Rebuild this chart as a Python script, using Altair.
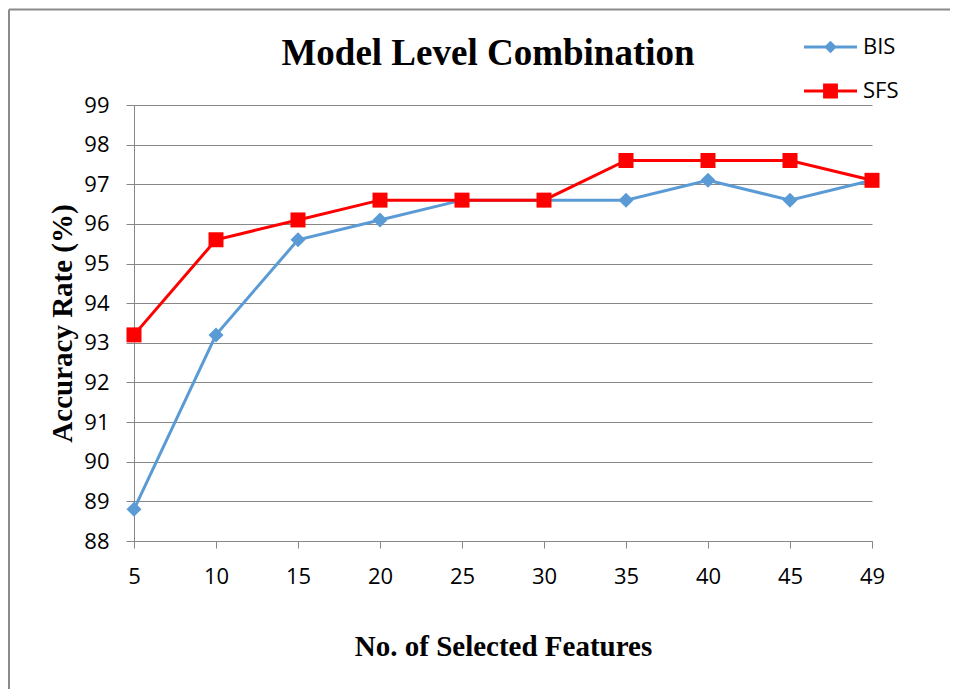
import altair as alt
import pandas as pd

features = ["5", "10", "15", "20", "25", "30", "35", "40", "45", "49"]
bis = [88.8, 93.2, 95.6, 96.1, 96.6, 96.6, 96.6, 97.1, 96.6, 97.1]
sfs = [93.2, 95.6, 96.1, 96.6, 96.6, 96.6, 97.6, 97.6, 97.6, 97.1]
series_names = ["BIS", "SFS"]
series_colors = ["#5B9BD5", "#FF0000"]
y_ticks = list(range(88, 100))

rows = []
for name, vals in zip(series_names, [bis, sfs]):
    for f, v in zip(features, vals):
        rows.append({"features": f, "value": v, "series": name})
df = pd.DataFrame(rows)

GREY = "#878787"
LABEL_FONT = "Open Sans"
SERIF = "Liberation Serif"

x_enc = alt.X(
    "features:O",
    sort=features,
    scale=alt.Scale(type="point", padding=0),
    axis=alt.Axis(
        title="No. of Selected Features",
        titleFont=SERIF, titleFontSize=29, titleFontWeight="bold", titleColor="black",
        titlePadding=45,
        labelAngle=0, labelFont=LABEL_FONT, labelFontSize=22, labelColor="black",
        labelPadding=18, tickSize=7, tickColor=GREY, domainColor=GREY, grid=False,
    ),
)
y_enc = alt.Y(
    "value:Q",
    scale=alt.Scale(domain=[88, 99], nice=False, zero=False),
    axis=alt.Axis(
        title="Accuracy Rate (%)",
        titleFont=SERIF, titleFontSize=29, titleFontWeight="bold", titleColor="black",
        titlePadding=6,
        values=y_ticks, format="d",
        labelFont=LABEL_FONT, labelFontSize=22, labelColor="black",
        labelPadding=17, tickSize=8, tickColor=GREY, domainColor=GREY,
        grid=True, gridColor=GREY, gridWidth=1,
    ),
)

color_scale = alt.Scale(domain=series_names, range=series_colors)

lines = alt.Chart(df).mark_line(strokeWidth=3).encode(
    x=x_enc, y=y_enc,
    color=alt.Color("series:N", scale=color_scale, legend=None),
)
points = alt.Chart(df).mark_point(filled=True, opacity=1, size=225).encode(
    x=x_enc, y=y_enc,
    color=alt.Color("series:N", scale=color_scale, legend=None),
    shape=alt.Shape("series:N", scale=alt.Scale(domain=series_names, range=["diamond", "square"]), legend=None),
)

diamond_path = "M-1,-0.06H1V0.06H-1Z M0,-0.24L0.24,0L0,0.24L-0.24,0Z"
square_path = "M-1,-0.06H1V0.06H-1Z M-0.28,-0.28H0.28V0.28H-0.28Z"
legend_props = dict(
    title=None, orient="none", legendX=670, legendY=-84.5,
    symbolSize=2809, symbolStrokeWidth=0, symbolOpacity=1,
    labelFont=LABEL_FONT, labelFontSize=22, labelColor="black", labelOffset=6,
    rowPadding=6, padding=0,
)
legend_layer = alt.Chart(df).mark_point(filled=True, opacity=0).encode(
    x=x_enc, y=y_enc,
    color=alt.Color("series:N", scale=color_scale, legend=alt.Legend(**legend_props)),
    shape=alt.Shape("series:N", scale=alt.Scale(domain=series_names, range=[diamond_path, square_path]),
                    legend=alt.Legend(**legend_props)),
)

frame_src = pd.DataFrame({"a": [0]})
frame_top = alt.Chart(frame_src).mark_rule(stroke="#8a8a8a", strokeWidth=2).encode(
    x=alt.value(-125), x2=alt.value(816), y=alt.value(-95.5),
)
frame_left = alt.Chart(frame_src).mark_rule(stroke="#8a8a8a", strokeWidth=2).encode(
    x=alt.value(-125), y=alt.value(-95.5), y2=alt.value(584),
)

chart = alt.layer(frame_top, frame_left, lines, points, legend_layer).resolve_scale(
    shape="independent"
).resolve_legend(
    color="independent", shape="independent"
).properties(
    width=738, height=436,
    padding={"left": 126, "top": 97, "right": 80, "bottom": 150},
    autosize=alt.AutoSizeParams(type="none"),
    title=alt.TitleParams(
        "Model Level Combination", font=SERIF, fontSize=37, fontWeight="bold",
        color="black", anchor="middle", frame="group", dx=-15, offset=0, dy=64,
    ),
).configure_view(stroke=None)

chart.save("out.html", embed_options={"renderer": "svg", "actions": False})
